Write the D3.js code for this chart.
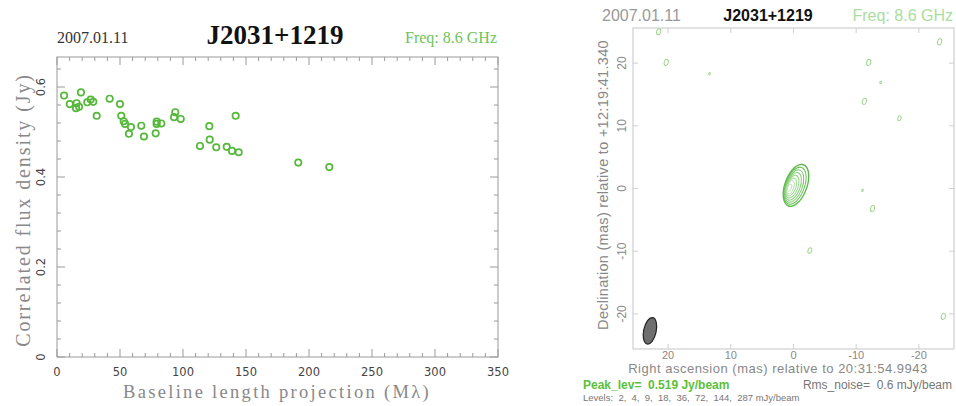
<!DOCTYPE html>
<html lang="en">
<head>
  <meta charset="UTF-8">
  <title>J2031+1219</title>
  <style>
    body { margin: 0; background: #fff; }
    text { font-family: "Liberation Serif", serif; }
  </style>
  <script src="https://cdn.jsdelivr.net/npm/d3@7"></script>
</head>
<body>
<script>
  // correlated flux vs baseline
  var baseline = [5.6, 10.1, 15.6, 15.1, 17.5, 19.0, 24.0, 26.7, 28.8, 31.5, 41.8, 50.0, 51.0, 52.9, 54.0,
                  58.7, 57.1, 66.9, 69.0, 78.3, 79.1, 79.1, 82.8, 92.9, 93.9, 98.2, 113.5, 120.9, 121.2,
                  126.4, 134.7, 138.9, 141.8, 144.2, 191.5, 216.1];
  var flux = [0.581, 0.562, 0.564, 0.553, 0.556, 0.588, 0.566, 0.572, 0.567, 0.536, 0.574, 0.562, 0.536, 0.524, 0.518,
              0.511, 0.496, 0.514, 0.490, 0.497, 0.523, 0.518, 0.519, 0.533, 0.544, 0.529, 0.469, 0.513, 0.483,
              0.466, 0.467, 0.458, 0.536, 0.455, 0.432, 0.422];
  var xTicks = [0, 50, 100, 150, 200, 250, 300, 350];
  var yTicks = [0, 0.2, 0.4, 0.6];

  // image panel: noise blobs (mas) and main component contour sizes (mas)
  var blobRA  = [21.5, 20.3, 13.4, -23.3, -12.0, -13.9, -11.3, -16.9, -11.0, -12.6, -2.6, -23.9];
  var blobDec = [25.0, 20.1, 18.3, 23.4, 20.1, 16.9, 13.9, 11.2, -0.3, -3.2, -9.9, -20.4];
  var blobSize = [0.5, 0.5, 0.2, 0.5, 0.5, 0.2, 0.5, 0.4, 0.2, 0.5, 0.45, 0.5];
  var levels = [2, 4, 9, 18, 36, 72, 144, 287];
  var contourRx = [1.75, 1.5, 1.3, 1.1, 0.9, 0.7, 0.5, 0.3];
  var contourRy = [3.5, 3.1, 2.7, 2.3, 1.9, 1.5, 1.1, 0.6];
  var mapTicks = [20, 10, 0, -10, -20];

  var svg = d3.select("body").append("svg").attr("width", 956).attr("height", 406);

  // ---------- left: flux vs baseline ----------
  var x = d3.scaleLinear().domain([0, 350]).range([57, 498]);
  var y = d3.scaleLinear().domain([0, 0.6667]).range([357, 57]);
  var axisCol = "#9a9a9a";

  svg.append("rect").attr("x", 57).attr("y", 57).attr("width", 441).attr("height", 300)
    .attr("fill", "none").attr("stroke", axisCol).attr("stroke-width", 1);

  var frame = svg.append("g").attr("stroke", axisCol).attr("stroke-width", 1);
  var xMinor = d3.range(0, 351, 10), yMinor = d3.range(0, 0.661, 0.04);
  frame.selectAll(".xt").data(xMinor).enter().append("line")
    .attr("x1", function(d) { return x(d); }).attr("x2", function(d) { return x(d); })
    .attr("y1", 357).attr("y2", function(d) { return d % 50 === 0 ? 349 : 353; });
  frame.selectAll(".xt2").data(xMinor).enter().append("line")
    .attr("x1", function(d) { return x(d); }).attr("x2", function(d) { return x(d); })
    .attr("y1", 57).attr("y2", function(d) { return d % 50 === 0 ? 65 : 61; });
  frame.selectAll(".yt").data(yMinor).enter().append("line")
    .attr("y1", function(d) { return y(d); }).attr("y2", function(d) { return y(d); })
    .attr("x1", 57).attr("x2", function(d, i) { return i % 5 === 0 ? 65 : 61; });
  frame.selectAll(".yt2").data(yMinor).enter().append("line")
    .attr("y1", function(d) { return y(d); }).attr("y2", function(d) { return y(d); })
    .attr("x1", 498).attr("x2", function(d, i) { return i % 5 === 0 ? 490 : 494; });

  svg.selectAll(".xl").data(xTicks).enter().append("text")
    .attr("x", function(d) { return x(d); }).attr("y", 376)
    .attr("text-anchor", "middle").style("font-family", "'DejaVu Sans', sans-serif")
    .style("font-size", "11.5px").attr("fill", "#444").text(function(d) { return d; });
  svg.selectAll(".yl").data(yTicks).enter().append("text")
    .attr("transform", function(d) { return "translate(45," + y(d) + ") rotate(-90)"; })
    .attr("text-anchor", "middle").style("font-family", "'DejaVu Sans', sans-serif")
    .style("font-size", "11.5px").attr("fill", "#444").text(function(d) { return d; });

  svg.append("text").attr("x", 277).attr("y", 398).attr("text-anchor", "middle")
    .style("font-size", "18.5px").attr("fill", "#888").attr("letter-spacing", "2.3px")
    .text("Baseline length projection (M\u03bb)");
  svg.append("text").attr("transform", "translate(30,210) rotate(-90)").attr("text-anchor", "middle")
    .style("font-size", "20px").attr("fill", "#888").attr("letter-spacing", "1.9px")
    .text("Correlated flux density (Jy)");

  svg.append("text").attr("x", 57).attr("y", 43).style("font-size", "16px").attr("fill", "#333").text("2007.01.11");
  svg.append("text").attr("x", 275).attr("y", 44).attr("text-anchor", "middle")
    .style("font-size", "27px").style("font-weight", "bold").attr("fill", "#111").text("J2031+1219");
  svg.append("text").attr("x", 497).attr("y", 43).attr("text-anchor", "end")
    .style("font-size", "16px").attr("fill", "#6cc45a").text("Freq: 8.6 GHz");

  svg.append("g").selectAll("circle").data(baseline).enter().append("circle")
    .attr("cx", function(d) { return x(d); })
    .attr("cy", function(d, i) { return y(flux[i]); })
    .attr("r", 3.2).attr("fill", "none").attr("stroke", "#55b83a").attr("stroke-width", 1.7);

  // ---------- right: clean image ----------
  var mx = d3.scaleLinear().domain([25.6, -25.6]).range([633, 954]);
  var my = d3.scaleLinear().domain([25.6, -25.6]).range([28, 349]);
  var pxPerMas = 321 / 51.2;
  var lightAxis = "#cfcfcf";

  svg.append("rect").attr("x", 633).attr("y", 28).attr("width", 321).attr("height", 321)
    .attr("fill", "none").attr("stroke", lightAxis).attr("stroke-width", 1.2);
  var mframe = svg.append("g").attr("stroke", lightAxis).attr("stroke-width", 1);
  mframe.selectAll(".a").data(mapTicks).enter().append("line")
    .attr("x1", function(d) { return mx(d); }).attr("x2", function(d) { return mx(d); })
    .attr("y1", 349).attr("y2", 344);
  mframe.selectAll(".b").data(mapTicks).enter().append("line")
    .attr("x1", function(d) { return mx(d); }).attr("x2", function(d) { return mx(d); })
    .attr("y1", 28).attr("y2", 33);
  mframe.selectAll(".c").data(mapTicks).enter().append("line")
    .attr("y1", function(d) { return my(d); }).attr("y2", function(d) { return my(d); })
    .attr("x1", 633).attr("x2", 638);
  mframe.selectAll(".d").data(mapTicks).enter().append("line")
    .attr("y1", function(d) { return my(d); }).attr("y2", function(d) { return my(d); })
    .attr("x1", 954).attr("x2", 949);

  var sans = "'Liberation Sans', Arial, sans-serif";
  svg.selectAll(".mxl").data(mapTicks).enter().append("text")
    .attr("x", function(d) { return mx(d); }).attr("y", 359).attr("text-anchor", "middle")
    .style("font-family", sans).style("font-size", "11px").attr("fill", "#888")
    .text(function(d) { return d; });
  svg.selectAll(".myl").data(mapTicks).enter().append("text")
    .attr("transform", function(d) { return "translate(626," + my(d) + ") rotate(-90)"; })
    .attr("text-anchor", "middle").style("font-family", sans).style("font-size", "12px").attr("fill", "#888")
    .text(function(d) { return d; });

  svg.append("text").attr("x", 778).attr("y", 373).attr("text-anchor", "middle")
    .style("font-family", sans).style("font-size", "13px").attr("fill", "#888").attr("letter-spacing", "0.5px")
    .text("Right ascension (mas) relative to 20:31:54.9943");
  svg.append("text").attr("transform", "translate(608,185) rotate(-90)").attr("text-anchor", "middle")
    .style("font-family", sans).style("font-size", "14.5px").attr("fill", "#888").attr("letter-spacing", "0.3px")
    .text("Declination (mas) relative to +12:19:41.340");

  svg.append("text").attr("x", 583).attr("y", 389).style("font-family", sans).style("font-size", "12px")
    .style("font-weight", "bold").attr("fill", "#5cbf3c").attr("xml:space", "preserve")
    .text("Peak_lev=  0.519 Jy/beam");
  svg.append("text").attr("x", 952).attr("y", 389).attr("text-anchor", "end").style("font-family", sans)
    .style("font-size", "12px").attr("fill", "#777").attr("xml:space", "preserve")
    .text("Rms_noise=  0.6 mJy/beam");
  svg.append("text").attr("x", 583).attr("y", 401).style("font-family", sans).style("font-size", "9.5px")
    .attr("fill", "#777").attr("xml:space", "preserve")
    .text("Levels:  " + levels.join(",  ") + " mJy/beam");

  svg.append("text").attr("x", 602).attr("y", 21).style("font-family", sans).style("font-size", "16px")
    .attr("fill", "#999").text("2007.01.11");
  svg.append("text").attr("x", 768).attr("y", 21).attr("text-anchor", "middle").style("font-family", sans)
    .style("font-size", "16px").style("font-weight", "bold").attr("fill", "#111").text("J2031+1219");
  svg.append("text").attr("x", 953).attr("y", 21).attr("text-anchor", "end").style("font-family", sans)
    .style("font-size", "16px").attr("fill", "#a9dea0").text("Freq: 8.6 GHz");

  // noise contours
  svg.append("g").selectAll("ellipse").data(blobRA).enter().append("ellipse")
    .attr("transform", function(d, i) { return "translate(" + mx(d) + "," + my(blobDec[i]) + ") rotate(15)"; })
    .attr("rx", function(d, i) { return blobSize[i] * pxPerMas * 0.65; })
    .attr("ry", function(d, i) { return blobSize[i] * pxPerMas; })
    .attr("fill", "none").attr("stroke", "#9fd68f").attr("stroke-width", 1);

  // main component
  var greens = d3.scaleLinear().domain([0, levels.length - 1]).range(["#5cb84a", "#bfe8b4"]);
  svg.append("g").attr("transform", "translate(" + mx(-0.4) + "," + my(0.5) + ") rotate(20)")
    .selectAll("ellipse").data(levels).enter().append("ellipse")
    .attr("cx", function(d, i) { return -i * 0.12 * pxPerMas; })
    .attr("cy", function(d, i) { return i * 0.1 * pxPerMas; })
    .attr("rx", function(d, i) { return contourRx[i] * pxPerMas; })
    .attr("ry", function(d, i) { return contourRy[i] * pxPerMas; })
    .attr("fill", "none").attr("stroke", function(d, i) { return greens(i); })
    .attr("stroke-width", function(d, i) { return i === 0 ? 1.4 : 1; });

  // restoring beam
  svg.append("ellipse").attr("transform", "translate(" + mx(22.9) + "," + my(-22.7) + ") rotate(12)")
    .attr("rx", 1.0 * pxPerMas).attr("ry", 2.15 * pxPerMas)
    .attr("fill", "#6e6e6e").attr("stroke", "#222").attr("stroke-width", 1.2);
</script>
</body>
</html>
